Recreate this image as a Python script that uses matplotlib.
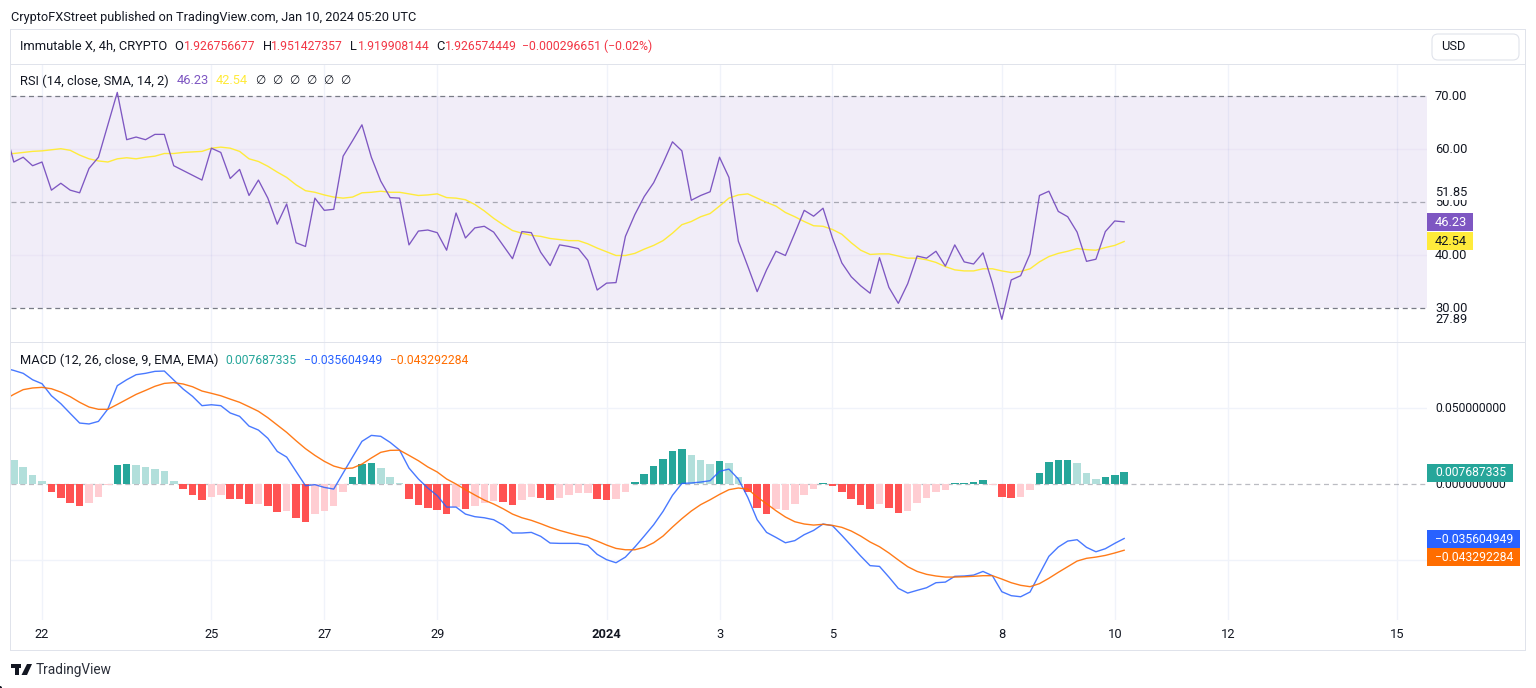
import numpy as np
import matplotlib
matplotlib.use('Agg')
import matplotlib.pyplot as plt
from matplotlib.patches import Rectangle, FancyBboxPatch, Polygon, Circle

plt.rcParams['font.family'] = ['Roboto', 'DejaVu Sans']

W, H = 1536, 688

# bars are 4h, numbered from the Dec 22 tick
bars = np.arange(-4, 116)
tick_bars = [0, 18, 30, 42, 60, 72, 84, 102, 114, 126, 144]
tick_labels = ['22', '25', '27', '29', '2024', '3', '5', '8', '10', '12', '15']

rsi = [64.2, 57.5, 58.4, 56.8, 57.5, 52.2, 53.5, 52.2, 51.7, 56.3, 58.4, 64.5, 70.6, 61.7, 62.2, 61.7, 62.7, 62.7, 56.8, 55.9,
       55.0, 54.1, 60.1, 59.3, 54.4, 56.1, 51.2, 54.1, 50.7, 45.8, 49.6, 42.3, 41.6, 50.7, 48.4, 48.6, 58.6, 61.5, 64.5, 58.4,
       53.9, 50.8, 50.7, 41.9, 44.5, 44.7, 44.2, 40.9, 47.9, 43.2, 45.1, 45.4, 44.3, 41.8, 39.3, 44.4, 44.2, 40.5, 38.0, 41.9,
       41.6, 41.2, 39.0, 33.4, 34.7, 34.8, 43.5, 47.6, 51.0, 53.6, 57.3, 61.3, 59.6, 50.3, 51.2, 51.9, 58.4, 54.6, 42.6, 37.9,
       33.1, 37.2, 40.7, 39.9, 44.1, 48.4, 47.3, 48.8, 43.2, 38.5, 35.9, 34.2, 32.8, 39.5, 33.9, 30.9, 34.6, 39.8, 39.4, 40.7,
       37.9, 41.9, 38.7, 38.3, 40.4, 34.7, 27.89, 35.3, 36.1, 40.2, 51.2, 52.0, 48.2, 47.2, 44.3, 38.8, 39.2, 44.4, 46.4, 46.23]

rsi_ma = [59.2, 59.1, 59.3, 59.5, 59.6, 59.8, 60.0, 59.7, 58.8, 58.1, 57.7, 57.5, 58.1, 58.3, 58.1, 58.4, 58.6, 59.1, 59.1, 59.3,
          59.4, 59.5, 60.1, 60.3, 60.1, 59.5, 58.1, 57.6, 56.7, 55.6, 54.6, 53.2, 52.1, 51.8, 51.3, 50.9, 50.7, 50.9, 51.7, 51.8,
          52.0, 51.8, 51.8, 51.5, 51.2, 51.3, 51.5, 50.8, 50.7, 50.4, 49.5, 48.3, 46.9, 45.7, 44.6, 44.1, 43.7, 43.5, 43.1, 42.9,
          42.7, 42.7, 42.1, 41.3, 40.6, 39.9, 39.9, 40.3, 41.1, 41.8, 42.7, 44.1, 45.7, 46.3, 47.2, 47.8, 49.2, 50.7, 51.3, 51.5,
          50.7, 49.9, 49.2, 48.0, 47.2, 46.3, 45.5, 45.4, 44.8, 43.9, 42.3, 40.9, 40.1, 40.2, 40.2, 39.8, 39.4, 39.4, 39.1, 38.6,
          37.8, 37.2, 37.0, 37.0, 37.4, 37.4, 37.0, 36.7, 36.9, 37.4, 38.7, 39.7, 40.3, 40.7, 41.2, 41.0, 40.9, 41.4, 41.8, 42.54]

# MACD pane values, in thousandths
macd = [76.2, 74.6, 72.7, 68.5, 65.9, 58.0, 52.8, 46.4, 40.1, 39.5, 41.2, 49.3, 64.6, 68.5, 71.8, 72.7, 74.0, 74.2, 68.3, 62.4,
        57.6, 51.5, 52.1, 51.5, 46.7, 44.5, 38.1, 35.5, 30.1, 21.5, 17.8, 8.4, -1.0, -0.3, -2.1, -3.2, 7.3, 17.8, 28.1, 32.0,
        31.4, 27.4, 22.4, 10.6, 3.4, -2.5, -7.5, -15.0, -15.0, -19.6, -21.3, -22.0, -23.3, -26.8, -32.0, -32.0, -31.6, -34.2, -38.6, -38.8,
        -38.8, -38.8, -40.1, -46.0, -49.5, -51.5, -47.8, -41.2, -34.0, -26.6, -17.8, -7.3, 0.5, 0.8, 1.4, 2.3, 8.4, 9.9, 3.4, -8.6,
        -23.3, -31.6, -34.9, -38.4, -37.0, -33.1, -30.3, -26.1, -27.2, -33.6, -40.3, -47.1, -53.4, -53.9, -60.9, -68.3, -71.4, -69.6, -67.9, -64.6,
        -64.2, -60.4, -60.2, -59.6, -57.2, -60.0, -70.5, -73.1, -73.8, -70.7, -58.9, -47.3, -41.2, -37.3, -36.4, -41.4, -44.3, -42.3, -38.8, -35.6]

signal = [55.4, 58.9, 62.0, 63.1, 63.5, 62.6, 60.4, 57.4, 53.7, 50.6, 49.1, 49.1, 52.3, 55.6, 58.9, 61.5, 64.2, 66.1, 66.6, 65.7,
          63.9, 61.1, 59.6, 58.0, 55.8, 53.7, 50.8, 47.8, 43.6, 38.8, 34.0, 28.5, 23.3, 18.9, 15.0, 11.9, 10.2, 10.6, 13.2, 17.2,
          20.9, 22.2, 22.3, 18.9, 15.4, 11.3, 8.0, 3.4, 0.1, -3.6, -7.1, -10.4, -13.0, -16.1, -19.6, -22.0, -23.7, -25.9, -28.3, -30.3,
          -32.0, -33.6, -34.9, -37.3, -39.9, -42.1, -43.0, -43.0, -41.4, -38.4, -34.0, -28.1, -22.6, -17.6, -13.4, -10.2, -6.7, -3.6, -2.5, -3.2,
          -8.4, -12.8, -17.4, -21.5, -24.6, -26.1, -26.8, -26.3, -27.0, -28.3, -30.7, -34.0, -37.9, -41.0, -45.1, -49.7, -54.1, -57.2, -59.1, -60.2,
          -60.9, -60.9, -60.7, -60.4, -60.0, -60.0, -62.2, -64.6, -66.3, -67.2, -65.2, -61.7, -57.8, -54.1, -50.4, -48.6, -47.8, -46.7, -45.1, -43.3]

hist = [20.0, 16.1, 11.3, 6.2, 2.3, -4.9, -8.9, -12.1, -14.3, -12.1, -8.2, -0.3, 12.3, 13.0, 12.8, 11.3, 10.2, 8.4, 2.3, -3.2,
        -7.1, -10.6, -8.2, -7.1, -9.5, -9.6, -12.8, -12.7, -14.5, -18.5, -17.8, -22.2, -25.0, -19.3, -17.4, -14.5, -4.9, 4.9, 13.4, 13.9,
        10.6, 4.9, 1.0, -9.5, -13.9, -15.4, -16.7, -19.3, -15.0, -16.1, -14.5, -12.1, -11.3, -11.7, -13.4, -10.6, -8.2, -8.9, -10.6, -8.9,
        -7.1, -6.0, -6.0, -9.5, -10.6, -9.9, -4.9, 1.2, 6.7, 11.7, 16.7, 21.7, 23.3, 18.9, 15.6, 13.4, 15.0, 13.9, 4.9, -5.4,
        -15.8, -19.3, -16.3, -17.2, -13.2, -6.9, -3.2, 0.8, -1.0, -5.4, -9.9, -13.9, -16.1, -13.2, -15.4, -18.7, -17.6, -12.6, -8.9, -4.9,
        -3.6, 0.8, 0.8, 1.2, 3.0, -0.3, -8.6, -9.3, -8.2, -3.6, 7.3, 14.5, 16.1, 16.1, 13.9, 7.3, 3.4, 4.5, 6.2, 7.69]

# bars drawn in the strong colour, the others are the pale one
strong_bars = [1, 2, 3, 4, 8, 9, 15, 16, 17, 20, 21, 22, 24, 25, 27, 28, 33, 34, 35, 39, 40, 41, 42, 43, 45, 49, 50, 53, 54,
               59, 60, 63, 64, 65, 66, 67, 68, 72, 75, 76, 77, 83, 84, 85, 86, 87, 88, 90, 91, 97, 98, 99, 100, 102, 103,
               106, 107, 108, 109, 113, 114, 115]

PURPLE = '#7e57c2'
YELLOW = '#ffeb3b'
BLUE = '#2962ff'
ORANGE = '#ff6d00'
TEAL = '#26a69a'
RED = '#f23645'
TEXT = '#131722'
GRID = '#f0f3fa'
EDGE = '#e0e3eb'
FS = 9.25
FS_LONG = 8.75  # long numbers run wider in Roboto than in the original font


def px_axes(fig, left, top, right, bottom):
    ax = fig.add_axes([left / W, 1 - bottom / H, (right - left) / W, (bottom - top) / H])
    ax.axis('off')
    return ax


def label(x, y, s, color=TEXT, size=FS, **kw):
    return fig.text(x / W, 1 - y / H, s, color=color, fontsize=size, va='center', ha=kw.pop('ha', 'left'), **kw)


def box(x0, y0, x1, y1, color, zorder=2):
    fig.add_artist(Rectangle((x0 / W, 1 - y1 / H), (x1 - x0) / W, (y1 - y0) / H, transform=fig.transFigure,
                             facecolor=color, edgecolor='none', zorder=zorder))


def tag(y, s, bg, right, fg='white', size=FS):
    box(1427, y - 9, right, y + 9, bg, zorder=4)
    label(1435, y, s, color=fg, zorder=5, size=size)


def white_label(x, y, s):
    box(x - 3, y - 8, x + 36, y + 8, 'white', zorder=3)
    label(x, y, s, zorder=5)


fig = plt.figure(figsize=(W / 100, H / 100), dpi=100, facecolor='white')

# px per bar 9.41, tick 22 sits at px 42
xlim = ((11 - 42) / 9.41, (1427 - 42) / 9.41)

ax_rsi = px_axes(fig, 11, 65, 1427, 342)
ax_rsi.set_xlim(*xlim)
ax_rsi.set_ylim(70 - (342 - 95.6) / 5.3125, 70 - (65 - 95.6) / 5.3125)
ax_macd = px_axes(fig, 11, 343, 1427, 620)
ax_macd.set_xlim(*xlim)
ax_macd.set_ylim((484.2 - 620) / 1.525 * 1e-3, (484.2 - 343) / 1.525 * 1e-3)

for ax in (ax_rsi, ax_macd):
    for t in tick_bars:
        ax.axvline(t, color=GRID, lw=1, zorder=0)

# RSI pane
ax_rsi.axhspan(30, 70, color=PURPLE, alpha=0.1, lw=0, zorder=1)
for v in (60, 40):
    ax_rsi.axhline(v, color=PURPLE, alpha=0.05, lw=1, zorder=1)
ax_rsi.axhline(70, color='#787b86', lw=0.9, dashes=(4, 3), zorder=2)
ax_rsi.axhline(50, color='#787b86', alpha=0.6, lw=0.9, dashes=(4, 3), zorder=2)
ax_rsi.axhline(30, color='#787b86', lw=0.9, dashes=(4, 3), zorder=2)
ax_rsi.plot(bars, rsi_ma, color=YELLOW, lw=1, zorder=3, solid_joinstyle='round')
ax_rsi.plot(bars, rsi, color=PURPLE, lw=0.95, zorder=4, solid_joinstyle='round')

# MACD pane
hist_vals = np.array(hist) * 1e-3
hist_colors = []
for b, v in zip(bars, hist_vals):
    if v >= 0:
        hist_colors.append(TEAL if b in strong_bars else '#b2dfdb')
    else:
        hist_colors.append('#ff5252' if b in strong_bars else '#ffcdd2')
for v in (0.05, -0.05):
    ax_macd.axhline(v, color=GRID, lw=1, zorder=0)
ax_macd.axhline(0, color='#787b86', alpha=0.5, lw=0.9, dashes=(4, 3), zorder=1)
ax_macd.bar(bars, hist_vals, width=0.8, color=hist_colors, zorder=2)
ax_macd.plot(bars, np.array(macd) * 1e-3, color=BLUE, lw=1, zorder=3, alpha=0.85)
ax_macd.plot(bars, np.array(signal) * 1e-3, color=ORANGE, lw=1, zorder=4, alpha=0.9)

# frame, header row and pane separator
for (x0, y0, x1, y1) in [(11, 29, 1525, 30), (11, 64, 1525, 65), (11, 342, 1525, 343), (11, 650, 1525, 651),
                         (10, 29, 11, 651), (1525, 29, 1526, 651)]:
    box(x0, y0, x1, y1, EDGE, zorder=3)

label(11, 17, 'CryptoFXStreet published on TradingView.com, Jan 10, 2024 05:20 UTC', size=9.2)

label(20, 46, 'Immutable X, 4h, CRYPTO')
for x, s, c, size in [(174, 'O', TEXT, FS), (183.5, '1.926756677', RED, FS_LONG), (262.5, 'H', TEXT, FS),
                      (271, '1.951427357', RED, FS_LONG), (350, 'L', TEXT, FS), (358, '1.919908144', RED, FS_LONG),
                      (436, 'C', TEXT, FS), (445, '1.926574449', RED, FS_LONG),
                      (522, '\u22120.000296651 (\u22120.02%)', RED, 8.85)]:
    label(x, 46, s, color=c, size=size)

fig.add_artist(FancyBboxPatch((1432 / W, 1 - 60 / H), 87 / W, 26 / H, boxstyle='round,pad=0,rounding_size=0.004',
                              transform=fig.transFigure, facecolor='white', edgecolor=EDGE, lw=0.8,
                              mutation_aspect=2.2))
label(1441, 47, 'USD')

label(20, 81, 'RSI (14, close, SMA, 14, 2)')
label(177, 81, '46.23', color=PURPLE)
label(216, 81, '42.54', color=YELLOW)
for x in (255, 272, 289, 306, 323, 340):
    label(x, 81, '\u2205', size=8.5)

label(20, 360, 'MACD (12, 26, close, 9, EMA, EMA)')
label(225, 360, '0.007687335', color=TEAL, size=FS_LONG)
label(304, 360, '\u22120.035604949', color=BLUE, size=FS_LONG)
label(390, 360, '\u22120.043292284', color=ORANGE, size=FS_LONG)

# right scale, RSI
for v in (70, 60, 50, 40, 30):
    label(1435, 96 + (70 - v) * 5.3125, f'{v:.2f}', zorder=2)
white_label(1435, 192, '51.85')
white_label(1435, 320, '27.89')
tag(222, '46.23', PURPLE, 1473)
tag(241.2, '42.54', YELLOW, 1473, fg=TEXT)

# right scale, MACD
for v in (0.05, 0.0):
    label(1435, 484.5 - v * 1525, f'{v:.9f}', zorder=2, size=FS_LONG)
tag(473, '0.007687335', TEAL, 1513, size=FS_LONG)
tag(539.2, '\u22120.035604949', BLUE, 1519.5, size=FS_LONG)
tag(557.2, '\u22120.043292284', ORANGE, 1519.5, size=FS_LONG)

# time axis
for t, s in zip(tick_bars, tick_labels):
    label(42 + t * 9.41, 635, s, ha='center', fontweight='bold' if s == '2024' else 'normal')

# footer logo
box(11, 664, 20.5, 667.5, TEXT)
box(14.5, 667.5, 18.5, 675, TEXT)
fig.add_artist(Circle((23.3 / W, 1 - 666 / H), 2, transform=None, facecolor=TEXT, edgecolor='none'))
fig.add_artist(Polygon([(27 / W, 1 - 664 / H), (32 / W, 1 - 664 / H), (27 / W, 1 - 675 / H), (21.5 / W, 1 - 675 / H)],
                       transform=fig.transFigure, facecolor=TEXT, edgecolor='none'))
label(36, 670, 'TradingView', size=9.8, color='#2a2e39')

fig.savefig('out.png', dpi=100, facecolor='white')
